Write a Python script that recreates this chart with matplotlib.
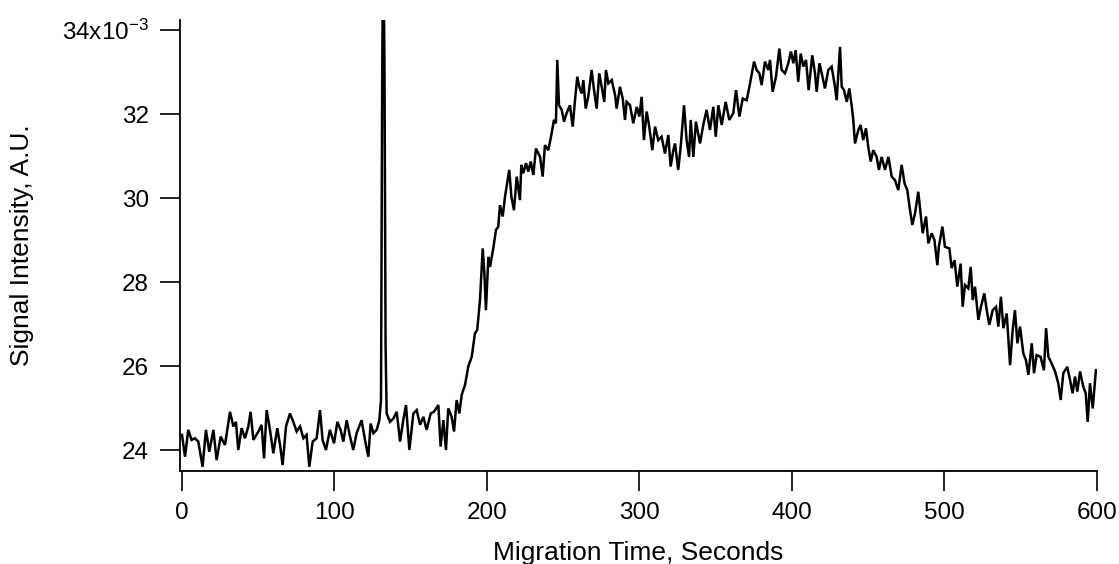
"""Migration-time trace: signal intensity vs. time, Igor-style axes."""
import matplotlib
matplotlib.use("Agg")
import matplotlib.pyplot as plt

# time (s) and signal (x10^-3 A.U.)
time_s = [
    0.0, 2.0, 4.1, 6.3, 8.5, 10.7, 13.5, 15.7, 17.9, 20.6, 22.7, 25.4, 28.2,
    31.5, 33.7, 35.4, 36.9, 39.1, 41.3, 43.5, 45.0, 46.8, 50.1, 52.2, 53.8,
    55.5, 57.7, 59.9, 62.5, 64.3, 66.0, 68.2, 70.8, 73.0, 75.2, 77.4, 79.6,
    81.7, 83.5, 85.7, 88.3, 90.5, 92.2, 94.4, 97.0, 99.7, 101.9, 104.0, 105.8,
    108.0, 110.2, 112.3, 114.5, 117.8, 120.0, 122.2, 123.7, 125.5, 127.7,
    129.4, 130.5, 131.3, 132.0, 132.8, 133.5, 134.2, 136.4, 138.6, 140.8,
    143.0, 145.1, 146.9, 149.1, 151.7, 153.9, 156.1, 158.3, 160.4, 163.1,
    165.2, 168.1, 169.6, 171.4, 173.1, 174.6, 176.8, 178.4, 180.1, 181.9,
    183.4, 185.6, 187.8, 190.0, 192.1, 193.6, 195.4, 197.2, 198.3, 199.3,
    200.9, 202.0, 204.1, 205.9, 207.4, 208.5, 210.3, 211.8, 214.6, 216.0,
    217.7, 219.5, 221.6, 222.5, 223.8, 225.6, 227.1, 228.7, 230.4, 232.1,
    234.8, 236.5, 238.0, 240.2, 242.4, 243.9, 245.2, 246.1, 247.2, 249.0,
    250.5, 252.2, 254.4, 256.2, 257.7, 259.2, 260.5, 262.1, 263.2, 264.7,
    266.4, 268.6, 270.2, 271.9, 273.6, 275.6, 276.9, 278.0, 279.6, 281.8,
    284.0, 285.0, 287.2, 289.0, 290.5, 291.6, 293.8, 295.9, 298.2, 299.9,
    301.4, 302.9, 304.7, 306.4, 308.4, 310.2, 312.3, 314.5, 316.7, 318.9,
    320.4, 322.2, 323.3, 325.4, 327.0, 329.2, 330.9, 332.5, 333.6, 335.3,
    337.0, 339.7, 341.8, 344.0, 346.2, 348.4, 350.0, 351.7, 353.9, 356.5,
    358.9, 361.5, 363.3, 365.5, 367.7, 370.3, 372.5, 375.1, 376.8, 378.6,
    380.1, 382.3, 384.5, 385.6, 387.3, 389.5, 391.7, 393.2, 395.4, 397.6,
    399.3, 400.9, 402.4, 404.1, 405.7, 407.4, 409.2, 410.9, 413.3, 415.1,
    416.2, 418.0, 419.5, 421.6, 423.8, 426.0, 428.0, 429.3, 430.4, 431.5,
    432.6, 434.1, 435.9, 437.6, 439.1, 440.2, 441.3, 443.5, 445.0, 446.7,
    448.5, 450.0, 451.6, 453.3, 455.5, 457.0, 458.8, 461.0, 463.2, 465.4,
    467.5, 469.7, 471.9, 473.8, 475.6, 477.4, 478.9, 480.7, 482.8, 485.7,
    487.9, 489.4, 491.6, 493.4, 495.3, 496.3, 498.6, 500.3, 503.2, 504.7,
    506.6, 508.4, 510.6, 511.9, 513.4, 515.6, 517.2, 518.5, 520.0, 522.2,
    523.9, 526.1, 527.7, 529.4, 531.6, 533.8, 535.3, 537.0, 538.6, 540.8,
    543.0, 544.7, 546.2, 547.8, 549.5, 551.7, 553.4, 555.0, 557.2, 558.7,
    560.4, 563.0, 565.2, 566.6, 568.1, 570.3, 572.5, 574.6, 576.2, 577.9,
    580.5, 582.3, 584.0, 585.6, 587.1, 588.9, 591.0, 592.6, 593.9, 595.4,
    597.2, 599.3,
]
signal = [
    24.36, 23.84, 24.48, 24.24, 24.28, 24.20, 23.60, 24.48, 23.96, 24.48,
    23.76, 24.32, 24.12, 24.91, 24.56, 24.67, 24.00, 24.52, 24.28, 24.56,
    24.91, 24.24, 24.44, 24.60, 23.80, 24.95, 24.48, 23.92, 24.52, 24.12,
    23.64, 24.56, 24.87, 24.67, 24.44, 24.56, 24.28, 24.36, 23.60, 24.20,
    24.28, 24.95, 24.24, 24.00, 24.48, 24.16, 24.67, 24.48, 24.20, 24.71,
    24.32, 24.00, 24.40, 24.71, 24.24, 23.84, 24.63, 24.40, 24.48, 24.71,
    25.19, 33.00, 36.50, 33.00, 26.50, 24.87, 24.67, 24.75, 24.91, 24.20,
    24.71, 25.07, 24.00, 24.87, 24.95, 24.60, 24.79, 24.48, 24.87, 24.91,
    25.07, 24.08, 24.71, 24.00, 24.99, 24.79, 24.44, 25.19, 24.87, 25.31,
    25.55, 26.00, 26.22, 26.78, 26.86, 27.57, 28.80, 28.20, 27.33, 28.60,
    28.36, 28.80, 29.24, 29.32, 29.83, 29.56, 30.03, 30.67, 30.03, 29.71,
    30.51, 29.95, 30.79, 30.59, 30.83, 30.63, 30.87, 30.55, 31.18, 30.98,
    30.51, 31.26, 31.14, 31.54, 31.86, 31.78, 33.29, 32.21, 32.10, 31.82,
    32.02, 32.21, 31.70, 32.33, 32.89, 32.65, 32.49, 32.81, 32.13, 32.41,
    33.05, 32.57, 32.13, 32.97, 32.57, 32.29, 33.05, 32.73, 32.81, 32.45,
    32.13, 32.65, 32.37, 31.86, 32.29, 32.21, 31.78, 32.17, 31.94, 32.41,
    31.38, 32.06, 31.70, 31.14, 31.70, 31.38, 31.46, 31.06, 31.50, 30.75,
    31.14, 31.30, 30.67, 31.22, 32.21, 31.38, 30.98, 31.86, 30.98, 31.82,
    31.30, 31.74, 32.10, 31.62, 32.17, 31.46, 32.21, 31.74, 32.29, 31.86,
    32.02, 32.57, 31.94, 32.37, 32.33, 32.73, 33.25, 33.05, 32.97, 32.69,
    33.25, 33.05, 33.29, 32.53, 32.89, 33.56, 33.05, 32.97, 33.21, 33.49,
    33.21, 33.52, 32.77, 33.44, 33.13, 33.29, 32.57, 33.40, 32.97, 32.53,
    33.21, 32.97, 32.61, 33.05, 33.13, 32.69, 32.33, 32.97, 33.60, 32.65,
    32.57, 32.29, 32.61, 32.21, 31.86, 31.30, 31.62, 31.74, 31.38, 31.66,
    31.22, 30.87, 31.14, 30.98, 30.67, 30.98, 30.67, 30.98, 30.51, 30.43,
    30.19, 30.79, 30.35, 30.19, 29.71, 29.36, 29.64, 30.15, 29.16, 29.56,
    28.92, 29.16, 29.00, 28.40, 28.84, 29.32, 28.84, 28.80, 28.33, 28.52,
    27.89, 28.44, 27.41, 27.93, 27.85, 28.36, 27.57, 27.89, 27.10, 27.41,
    27.73, 27.33, 26.98, 27.33, 27.41, 26.94, 27.65, 26.90, 27.25, 26.02,
    26.86, 27.33, 26.54, 26.94, 26.30, 26.14, 25.79, 26.54, 25.83, 26.26,
    26.22, 25.90, 26.90, 26.22, 26.06, 25.87, 25.59, 25.19, 25.83, 25.98,
    25.67, 25.35, 25.75, 25.39, 25.87, 25.51, 25.35, 24.67, 25.59, 24.99,
    25.90,
]

x_ticks = [0, 100, 200, 300, 400, 500, 600]
y_ticks = [24, 26, 28, 30, 32, 34]
y_tick_labels = ["24", "26", "28", "30", "32", r"34x10$^{-3}$"]


def main():
    plt.rcParams["font.family"] = ["Liberation Sans", "DejaVu Sans"]
    plt.rcParams["mathtext.default"] = "regular"

    fig = plt.figure(figsize=(11.19, 5.64), dpi=100)
    ax = fig.add_axes([180 / 1119, 93 / 564, 917 / 1119, 451 / 564])

    ax.plot(time_s, signal, color="black", linewidth=1.8,
            solid_joinstyle="miter")

    ax.set_xlim(-1.3, 600)
    ax.set_ylim(23.5, 34.24)
    for side in ("top", "right"):
        ax.spines[side].set_visible(False)
    for side in ("left", "bottom"):
        ax.spines[side].set_linewidth(1.3)

    ax.set_xticks(x_ticks)
    ax.set_yticks(y_ticks)
    ax.set_yticklabels(y_tick_labels)
    ax.tick_params(direction="out", length=14.4, width=1.2, labelsize=17.5,
                   pad=8)

    ax.set_xlabel("Migration Time, Seconds", fontsize=19, labelpad=12)
    ax.set_ylabel("Signal Intensity, A.U.", fontsize=19, labelpad=20)

    fig.savefig("out.png", dpi=100)
    plt.close(fig)


if __name__ == "__main__":
    main()
